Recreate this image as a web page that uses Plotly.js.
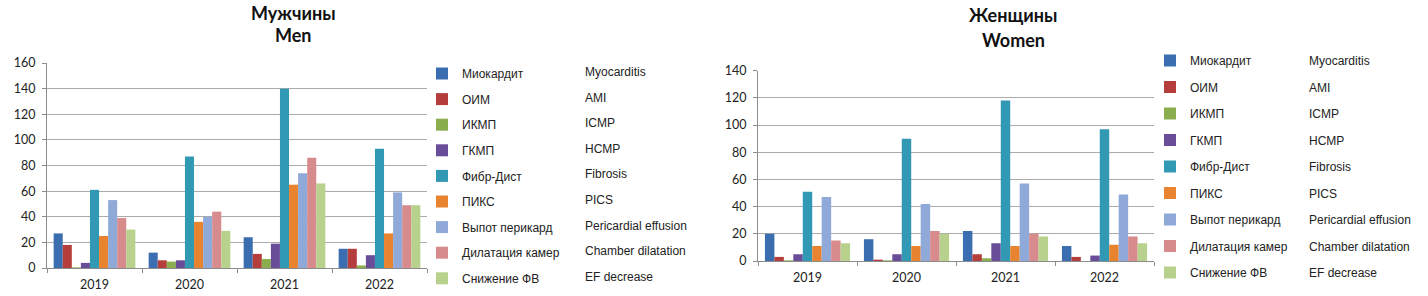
<!DOCTYPE html>
<html>
<head>
<meta charset="utf-8">
<script src="https://cdn.plot.ly/plotly-3.0.1.min.js"></script>
<style>html,body{margin:0;padding:0;background:#fff;}#chart{width:1428px;height:296px;}</style>
</head>
<body>
<div id="chart"></div>
<script>
// Categories (years)
const years = ['2019', '2020', '2021', '2022'];

// Series names (Russian / English)
const namesRu = ['Миокардит', 'ОИМ', 'ИКМП', 'ГКМП', 'Фибр-Дист', 'ПИКС', 'Выпот перикард', 'Дилатация камер', 'Снижение ФВ'];
const namesEn = ['Myocarditis', 'AMI', 'ICMP', 'HCMP', 'Fibrosis', 'PICS', 'Pericardial effusion', 'Chamber dilatation', 'EF decrease'];

// Men values per series (2019, 2020, 2021, 2022)
const menMyocarditis = [27, 12, 24, 15];
const menAMI         = [18, 6, 11, 15];
const menICMP        = [0.5, 5, 7, 2];
const menHCMP        = [4, 6, 19, 10];
const menFibrosis    = [61, 87, 140, 93];
const menPICS        = [25, 36, 65, 27];
const menPericardial = [53, 40, 74, 59];
const menDilatation  = [39, 44, 86, 49];
const menEF          = [30, 29, 66, 49];

// Women values per series (2019, 2020, 2021, 2022)
const womenMyocarditis = [20, 16, 22, 11];
const womenAMI         = [3, 1, 5, 3];
const womenICMP        = [0.5, 0.5, 2, 0];
const womenHCMP        = [5, 5, 13, 4];
const womenFibrosis    = [51, 90, 118, 97];
const womenPICS        = [11, 11, 11, 12];
const womenPericardial = [47, 42, 57, 49];
const womenDilatation  = [15, 22, 20, 18];
const womenEF          = [13, 20, 18, 13];

const menSeries = [menMyocarditis, menAMI, menICMP, menHCMP, menFibrosis, menPICS, menPericardial, menDilatation, menEF];
const womenSeries = [womenMyocarditis, womenAMI, womenICMP, womenHCMP, womenFibrosis, womenPICS, womenPericardial, womenDilatation, womenEF];

const colors = ['#3A6EB0', '#B53E3C', '#8AAE4E', '#6A4D98', '#3299B4', '#E8832F', '#8FA9D8', '#D88B8C', '#B8D18D'];

const W = 1428, H = 296;
const px = v => v / W;
const py = v => 1 - v / H;

const traces = [];
menSeries.forEach((vals, i) => {
  traces.push({
    type: 'bar', x: years, y: vals, name: namesRu[i],
    marker: {color: colors[i], line: {width: 0}},
    xaxis: 'x', yaxis: 'y', legend: 'legend', legendgroup: 'm' + i,
    hoverinfo: 'y+name'
  });
});
womenSeries.forEach((vals, i) => {
  traces.push({
    type: 'bar', x: years, y: vals, name: namesRu[i],
    marker: {color: colors[i], line: {width: 0}},
    xaxis: 'x2', yaxis: 'y2', legend: 'legend2', legendgroup: 'w' + i,
    hoverinfo: 'y+name'
  });
});

const tickFont = {family: 'Lato, "Open Sans", sans-serif', size: 12.5, color: '#222'};
const legFont = {family: '"Liberation Sans", Arial, sans-serif', size: 12, color: '#222'};
const titleFont = {family: 'Lato, "Open Sans", sans-serif', size: 18, color: '#111', weight: 'bold'};

const axisCommon = {
  type: 'category', showline: true, linecolor: '#8c8c8c', linewidth: 1,
  ticks: 'outside', tickson: 'boundaries', ticklen: 4, tickcolor: '#8c8c8c',
  tickfont: tickFont, showgrid: false, zeroline: false, fixedrange: true,
  ticklabelstandoff: 5
};
const yCommon = {
  showline: true, linecolor: '#8c8c8c', linewidth: 1,
  ticks: 'outside', ticklen: 4, tickcolor: '#8c8c8c',
  showgrid: true, gridcolor: '#ababab', gridwidth: 1, zeroline: false,
  tickfont: tickFont, fixedrange: true, ticklabelstandoff: 4
};

const annotations = [];
// Titles
annotations.push({text: '<b>Мужчины</b>', x: px(293), y: py(13), xref: 'paper', yref: 'paper', showarrow: false, font: titleFont, xanchor: 'center', yanchor: 'middle'});
annotations.push({text: '<b>Men</b>', x: px(293), y: py(35), xref: 'paper', yref: 'paper', showarrow: false, font: titleFont, xanchor: 'center', yanchor: 'middle'});
annotations.push({text: '<b>Женщины</b>', x: px(1013), y: py(15), xref: 'paper', yref: 'paper', showarrow: false, font: titleFont, xanchor: 'center', yanchor: 'middle'});
annotations.push({text: '<b>Women</b>', x: px(1013), y: py(40), xref: 'paper', yref: 'paper', showarrow: false, font: titleFont, xanchor: 'center', yanchor: 'middle'});
// English legend column
namesEn.forEach((n, i) => {
  annotations.push({text: n, x: px(583), y: py(72 + i * 25.6), xref: 'paper', yref: 'paper', showarrow: false, font: legFont, xanchor: 'left', yanchor: 'middle'});
  annotations.push({text: n, x: px(1307), y: py(61 + i * 26.5), xref: 'paper', yref: 'paper', showarrow: false, font: legFont, xanchor: 'left', yanchor: 'middle'});
});

const layout = {
  width: W, height: H,
  margin: {l: 0, r: 0, t: 0, b: 0},
  paper_bgcolor: '#ffffff', plot_bgcolor: '#ffffff',
  barmode: 'group', bargap: 0.14, bargroupgap: 0,
  xaxis: Object.assign({}, axisCommon, {domain: [px(47), px(427)], anchor: 'y'}),
  yaxis: Object.assign({}, yCommon, {domain: [py(268), py(63)], range: [0, 160], dtick: 20, anchor: 'x'}),
  xaxis2: Object.assign({}, axisCommon, {domain: [px(758), px(1154)], anchor: 'y2'}),
  yaxis2: Object.assign({}, yCommon, {domain: [py(261), py(70.7)], range: [0, 140], dtick: 20, anchor: 'x2'}),
  legend: {x: px(422), y: py(59), xanchor: 'left', yanchor: 'top', font: legFont, tracegroupgap: 6.6, bgcolor: 'rgba(0,0,0,0)', borderwidth: 0, traceorder: 'grouped'},
  legend2: {x: px(1150), y: py(46), xanchor: 'left', yanchor: 'top', font: legFont, tracegroupgap: 7.5, bgcolor: 'rgba(0,0,0,0)', borderwidth: 0, traceorder: 'grouped'},
  showlegend: true,
  annotations: annotations
};

Plotly.newPlot('chart', traces, layout, {displayModeBar: false, staticPlot: true});
</script>
</body>
</html>
